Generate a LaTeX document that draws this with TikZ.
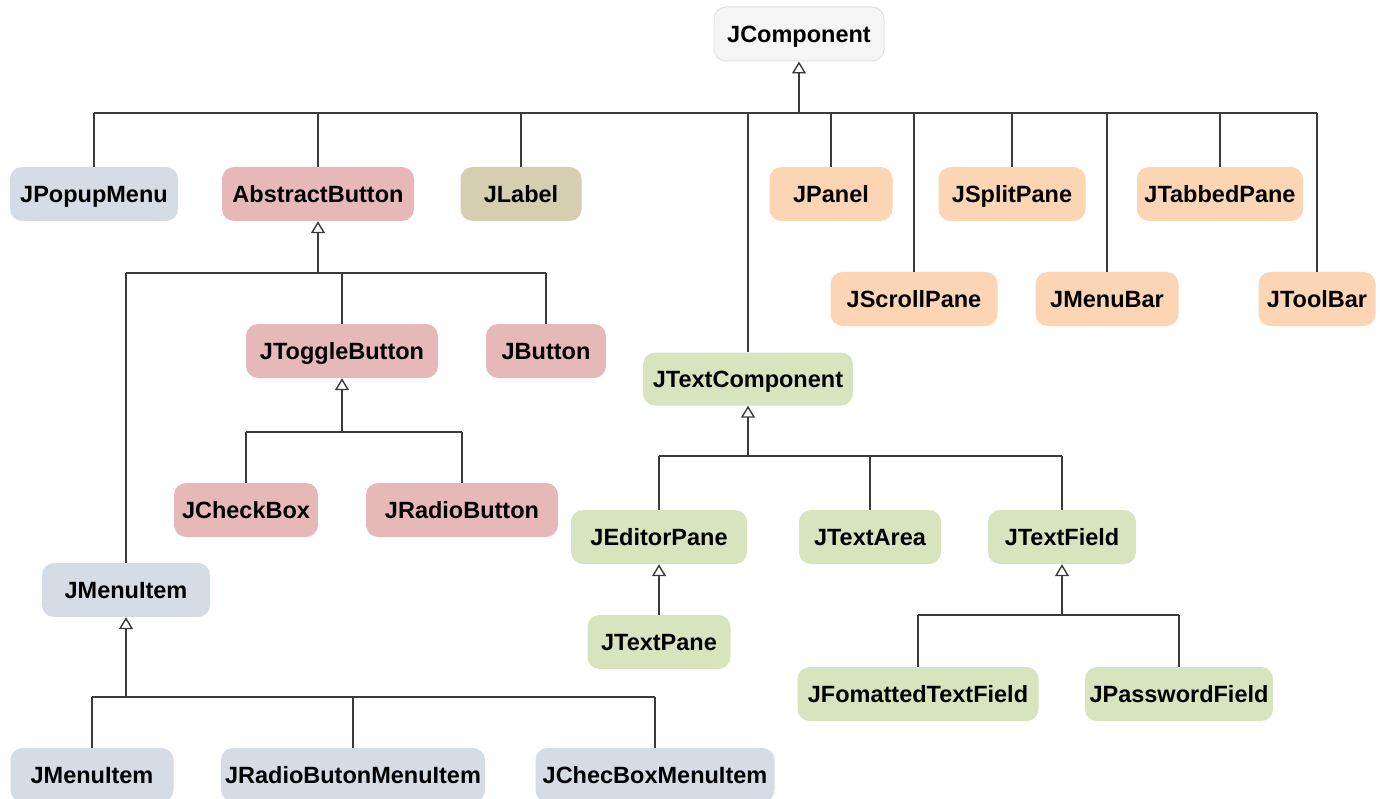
\documentclass[tikz,border=0pt]{standalone}
\usepackage{fontspec}
\setmainfont{Liberation Sans}
\usetikzlibrary{arrows.meta}
\definecolor{cgrey}{HTML}{F5F5F5}
\definecolor{cgreyd}{HTML}{E2E2E2}
\definecolor{cblue}{HTML}{D6DCE5}
\definecolor{cpink}{HTML}{E6B9B8}
\definecolor{ckhaki}{HTML}{D5CEB0}
\definecolor{corange}{HTML}{FCD5B5}
\definecolor{cgreen}{HTML}{D7E4BD}
\definecolor{cline}{HTML}{3A3A3A}
\tikzset{
  cls/.style={rounded corners=12pt, minimum height=54pt, inner sep=0pt,
    text height=17pt, text depth=0pt,
    font=\fontsize{23.5}{28}\selectfont\bfseries, text=black},
  greybox/.style={cls, fill=cgrey, draw=cgreyd, line width=1pt},
  bluebox/.style={cls, fill=cblue},
  pinkbox/.style={cls, fill=cpink},
  khakibox/.style={cls, fill=ckhaki},
  orangebox/.style={cls, fill=corange},
  greenbox/.style={cls, fill=cgreen},
  wire/.style={draw=cline, line width=1.5pt},
  inh/.style={wire, -{Triangle[open, width=14pt, length=12pt, line width=1.4pt]}},
}
\begin{document}
\begin{tikzpicture}[x=1pt, y=-1pt]
\useasboundingbox (0,0) rectangle (1380,799);
\fill[white] (0,0) rectangle (1380,799);

% classes
\node[greybox, minimum width=170pt] (comp) at (799,34) {JComponent};

\node[bluebox, minimum width=168pt] (pop) at (94,194) {JPopupMenu};
\node[pinkbox, minimum width=192pt] (abs) at (318,194) {AbstractButton};
\node[khakibox, minimum width=121pt] (lab) at (521,194) {JLabel};
\node[orangebox, minimum width=123pt] (panel) at (831,194) {JPanel};
\node[orangebox, minimum width=147pt] (split) at (1012,194) {JSplitPane};
\node[orangebox, minimum width=166pt] (tab) at (1220,194) {JTabbedPane};
\node[orangebox, minimum width=167pt] (scroll) at (914,299) {JScrollPane};
\node[orangebox, minimum width=143pt] (menubar) at (1107,299) {JMenuBar};
\node[orangebox, minimum width=117pt] (toolbar) at (1317,299) {JToolBar};

\node[pinkbox, minimum width=192pt] (toggle) at (342,351) {JToggleButton};
\node[pinkbox, minimum width=120pt] (button) at (546,351) {JButton};
\node[pinkbox, minimum width=144pt] (check) at (246,510) {JCheckBox};
\node[pinkbox, minimum width=192pt] (radio) at (462,510) {JRadioButton};

\node[bluebox, minimum width=168pt] (menuitem) at (126,590) {JMenuItem};
\node[bluebox, minimum width=163pt] (mi) at (92,775) {JMenuItem};
\node[bluebox, minimum width=264pt] (rbmi) at (353,775) {JRadioButonMenuItem};
\node[bluebox, minimum width=239pt] (cbmi) at (655,775) {JChecBoxMenuItem};

\node[greenbox, minimum width=210pt, minimum height=53pt] (textcomp) at (748,379) {JTextComponent};
\node[greenbox, minimum width=176pt] (editor) at (659,537) {JEditorPane};
\node[greenbox, minimum width=142pt] (area) at (870,537) {JTextArea};
\node[greenbox, minimum width=148pt] (field) at (1062,537) {JTextField};
\node[greenbox, minimum width=143pt] (textpane) at (659,642) {JTextPane};
\node[greenbox, minimum width=241pt] (fmt) at (918,694) {JFomattedTextField};
\node[greenbox, minimum width=188pt] (pwd) at (1179,694) {JPasswordField};

% bus levels
\coordinate (b1) at (0,113);
\coordinate (b2) at (0,273);
\coordinate (b3) at (0,432);
\coordinate (b4) at (0,697);
\coordinate (b5) at (0,456);
\coordinate (b6) at (0,615);

% JComponent subclasses
\draw[inh] (comp.south |- b1) -- (comp.south);
\draw[wire] (pop.north |- b1) -- (toolbar.north |- b1);
\foreach \n in {pop,abs,lab,textcomp,panel,scroll,split,menubar,tab,toolbar}
  \draw[wire] (\n.north) -- (\n.north |- b1);

% AbstractButton subclasses
\draw[inh] (abs.south |- b2) -- (abs.south);
\draw[wire] (menuitem.north |- b2) -- (button.north |- b2);
\foreach \n in {menuitem,toggle,button}
  \draw[wire] (\n.north) -- (\n.north |- b2);

% JToggleButton subclasses
\draw[inh] (toggle.south |- b3) -- (toggle.south);
\draw[wire] (check.north |- b3) -- (radio.north |- b3);
\foreach \n in {check,radio}
  \draw[wire] (\n.north) -- (\n.north |- b3);

% JMenuItem subclasses
\draw[inh] (menuitem.south |- b4) -- (menuitem.south);
\draw[wire] (mi.north |- b4) -- (cbmi.north |- b4);
\foreach \n in {mi,rbmi,cbmi}
  \draw[wire] (\n.north) -- (\n.north |- b4);

% JTextComponent subclasses
\draw[inh] (textcomp.south |- b5) -- (textcomp.south);
\draw[wire] (editor.north |- b5) -- (field.north |- b5);
\foreach \n in {editor,area,field}
  \draw[wire] (\n.north) -- (\n.north |- b5);

% JEditorPane subclass
\draw[inh] (textpane.north) -- (editor.south);

% JTextField subclasses
\draw[inh] (field.south |- b6) -- (field.south);
\draw[wire] (fmt.north |- b6) -- (pwd.north |- b6);
\foreach \n in {fmt,pwd}
  \draw[wire] (\n.north) -- (\n.north |- b6);
\end{tikzpicture}
\end{document}
